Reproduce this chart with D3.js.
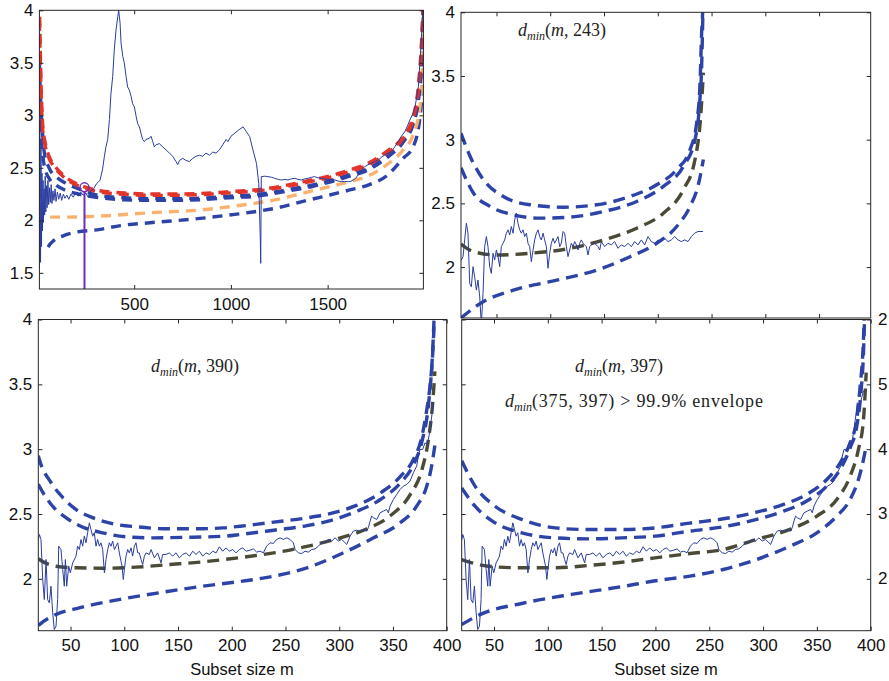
<!DOCTYPE html>
<html><head><meta charset="utf-8">
<script src="https://cdn.jsdelivr.net/npm/d3@7"></script>
<style>body{margin:0;background:#fff}svg{display:block}</style>
</head><body>
<svg id="c" width="889" height="681"></svg>
<script>
// ---------------- DATA ----------------
const tlXTicks = [500, 1000, 1500];
const tlYTicks = [1.5, 2, 2.5, 3, 3.5, 4];
const smXTicks = [50, 100, 150, 200, 250, 300, 350, 400];
const smYTicks = [2, 2.5, 3, 3.5, 4];
const hiddenAxisLabels = ["2", "5", "4", "3", "2"];
const hiddenAxisAt = [4, 3.5, 3, 2.5, 2];

// Top-left: full forward search, n ~ 2000
const tlSeries = [[10,1.55],[12,2.95],[14,2.1],[16,1.6],[18,2.7],[21,1.75],[23,2.45],[26,1.9],[29,2.38],[31,1.98],[34,2.30],[37,2.05],[40,2.42],[43,2.08],[47,2.33],[50,2.12],[54,2.38],[58,2.15],[62,2.31],[66,2.17],[71,2.34],[75,2.16],[80,2.28],[85,2.19],[91,2.30],[96,2.18],[103,2.27],[110,2.20],[118,2.26],[125,2.19],[134,2.25],[142,2.21],[152,2.24],[162,2.20],[173,2.25],[185,2.22],[197,2.26],[210,2.23],[223,2.27],[236,2.24],[250,2.26],[262,2.22],[275,2.28],[290,2.30],[306,2.35],[323,2.38],[336,2.48],[346,2.61],[354,2.70],[363,2.77],[372,2.96],[380,3.21],[389,3.37],[397,3.62],[406,3.81],[415,3.94],[420,4.0],[427,3.88],[432,3.69],[441,3.56],[449,3.50],[458,3.37],[466,3.27],[475,3.24],[484,3.18],[492,3.11],[501,3.08],[510,2.99],[518,2.92],[527,2.89],[535,2.83],[544,2.77],[553,2.75],[561,2.77],[578,2.78],[587,2.80],[596,2.75],[604,2.70],[613,2.72],[630,2.73],[647,2.70],[665,2.67],[682,2.64],[699,2.61],[716,2.56],[725,2.53],[734,2.57],[751,2.59],[768,2.57],[785,2.56],[803,2.59],[820,2.61],[837,2.62],[854,2.61],[871,2.64],[889,2.62],[906,2.65],[923,2.64],[940,2.67],[958,2.72],[975,2.77],[985,2.75],[1000,2.80],[1020,2.83],[1040,2.86],[1063,2.89],[1080,2.844],[1097,2.797],[1114,2.67],[1132,2.543],[1144,2.352],[1152,1.812],[1154,1.59],[1157,2.416],[1175,2.42],[1192,2.416],[1210,2.41],[1226,2.40],[1245,2.39],[1261,2.384],[1280,2.39],[1295,2.384],[1312,2.395],[1330,2.40],[1347,2.39],[1364,2.384],[1381,2.395],[1399,2.40],[1416,2.41],[1433,2.416],[1450,2.405],[1468,2.40],[1485,2.395],[1502,2.39],[1520,2.388],[1537,2.384],[1554,2.375],[1571,2.368],[1588,2.37],[1606,2.368],[1620,2.372],[1632,2.384],[1645,2.40],[1657,2.432],[1675,2.48],[1692,2.511],[1709,2.53],[1726,2.543],[1743,2.56],[1761,2.575],[1778,2.60],[1795,2.622],[1812,2.64],[1830,2.654],[1847,2.70],[1864,2.749],[1881,2.80],[1899,2.844],[1915,2.91],[1925,2.955],[1942,3.019],[1952,3.082],[1969,3.272],[1981,3.622],[1992,4.0]];
const tlRed99999 = [[10,4.1],[13,3.78],[18,3.34],[27,2.91],[40,2.74],[58,2.62],[85,2.53],[122,2.45],[170,2.38],[213,2.34],[323,2.282],[450,2.26],[582,2.25],[700,2.25],[840,2.256],[1020,2.276],[1123,2.289],[1227,2.314],[1321,2.346],[1416,2.384],[1511,2.422],[1614,2.479],[1709,2.543],[1804,2.654],[1890,2.797],[1942,2.987],[1970,3.30],[1986,3.72],[1995,4.1]];
const tlRed9999 = [[10,3.9],[13,3.65],[18,3.25],[27,2.86],[40,2.71],[58,2.60],[85,2.51],[122,2.435],[170,2.367],[213,2.327],[323,2.27],[450,2.248],[582,2.238],[700,2.238],[840,2.244],[1020,2.264],[1123,2.277],[1227,2.302],[1321,2.334],[1416,2.371],[1511,2.409],[1614,2.465],[1709,2.528],[1804,2.638],[1890,2.78],[1942,2.965],[1970,3.26],[1986,3.66],[1995,4.1]];
const tlBlue999 = [[10,3.5],[15,3.2],[22,2.95],[35,2.65],[60,2.50],[100,2.41],[140,2.36],[213,2.30],[323,2.235],[450,2.215],[582,2.205],[700,2.205],[840,2.21],[1020,2.232],[1123,2.243],[1227,2.27],[1321,2.302],[1416,2.334],[1511,2.378],[1614,2.435],[1709,2.493],[1804,2.607],[1890,2.756],[1942,2.93],[1970,3.2],[1986,3.6],[1995,4.1]];
const tlBlue99 = [[10,3.1],[15,2.9],[22,2.72],[35,2.52],[60,2.40],[100,2.33],[140,2.29],[213,2.25],[323,2.215],[450,2.195],[582,2.19],[700,2.19],[840,2.196],[1020,2.218],[1123,2.228],[1227,2.256],[1321,2.288],[1416,2.32],[1511,2.364],[1614,2.421],[1709,2.479],[1804,2.593],[1890,2.742],[1942,2.918],[1970,3.15],[1986,3.5],[1995,4.1]];
const tlOrange50 = [[10,2.30],[15,2.22],[22,2.10],[35,2.04],[60,2.03],[130,2.03],[323,2.04],[582,2.072],[840,2.098],[1020,2.136],[1123,2.162],[1227,2.194],[1321,2.235],[1416,2.279],[1511,2.321],[1614,2.368],[1709,2.422],[1804,2.527],[1890,2.67],[1942,2.813],[1975,3.05],[1990,3.5],[1995,4.1]];
const tlBlue1 = [[55,1.745],[60,1.76],[80,1.80],[130,1.85],[180,1.88],[323,1.914],[430,1.95],[582,1.977],[840,2.018],[1020,2.057],[1123,2.082],[1227,2.114],[1321,2.155],[1416,2.20],[1511,2.241],[1614,2.289],[1709,2.336],[1804,2.422],[1890,2.59],[1942,2.70],[1975,2.95],[1990,3.3],[1995,4.1]];
const tlSignal = [243, 2.314];

// Top-right: d_min(m, 243)
const trSeries = [[17,2.05],[18.9,2.082],[20.4,2.213],[22.0,2.344],[23.5,2.266],[25.1,1.871],[26.6,1.845],[28.2,2.003],[29.7,1.924],[31.3,1.819],[32.8,1.898],[34.4,1.766],[35.9,1.55],[37.5,1.793],[39.0,2.160],[40.6,2.239],[42.1,2.160],[43.7,2.003],[45.2,1.950],[46.8,2.108],[48.3,2.055],[49.9,2.134],[51.4,2.082],[53.0,2.003],[54.5,2.160],[56.1,2.187],[57.6,2.213],[59.2,2.266],[60.7,2.292],[62.3,2.252],[63.8,2.318],[65.4,2.266],[66.9,2.371],[68.5,2.423],[70.0,2.344],[71.6,2.292],[73.1,2.266],[74.7,2.292],[76.2,2.239],[77.8,2.266],[79.3,2.187],[80.9,2.160],[82.4,2.042],[84.0,2.134],[85.5,2.213],[87.1,2.266],[88.6,2.292],[90.2,2.239],[91.7,2.213],[93.3,2.266],[94.8,2.213],[96.4,2.160],[97.9,1.990],[99.5,2.108],[101.0,2.187],[102.6,2.226],[104.1,2.187],[105.7,2.213],[107.2,2.239],[108.8,2.160],[110.3,2.187],[111.9,2.279],[113.4,2.266],[115.0,2.160],[116.5,2.082],[118.1,2.134],[119.6,2.187],[121.2,2.160],[122.7,2.200],[124.3,2.174],[125.8,2.134],[127.4,2.187],[128.9,2.213],[130.5,2.187],[132.0,2.174],[133.6,2.160],[135.1,2.095],[136.7,2.160],[138.2,2.174],[141.3,2.187],[144.4,2.160],[146.0,2.134],[147.5,2.200],[150.6,2.160],[153.7,2.187],[156.8,2.174],[159.9,2.200],[163.0,2.147],[166.1,2.174],[169.2,2.160],[172.3,2.187],[175.4,2.160],[178.5,2.200],[181.6,2.174],[184.7,2.213],[187.8,2.174],[190.9,2.239],[194.0,2.200],[197.1,2.187],[200.2,2.213],[203.3,2.200],[206.4,2.226],[209.5,2.200],[212.6,2.213],[215.7,2.239],[218.8,2.213],[221.9,2.200],[225.0,2.213],[228.1,2.200],[231.2,2.239],[234.3,2.266],[237.4,2.279],[242.0,2.279]];
const trUp999 = [[17,3.05],[25.4,2.87],[37.8,2.686],[56.4,2.554],[81.2,2.489],[112.2,2.47],[143.2,2.489],[174.2,2.554],[199,2.646],[217.6,2.765],[230,2.922],[236.2,3.133],[239.3,3.448],[240.8,3.842],[241.7,4.0],[242,4.1]];
const trUp99 = [[17,2.78],[28.5,2.581],[44,2.476],[65.7,2.41],[90.5,2.384],[118.4,2.392],[149.4,2.436],[180.4,2.515],[205.2,2.633],[223.8,2.791],[234.6,3.001],[238.7,3.264],[240.8,3.58],[242.2,4.1]];
const trMed = [[17,2.18],[28.5,2.121],[50.2,2.095],[81.2,2.108],[118.4,2.147],[149.4,2.213],[180.4,2.305],[205.2,2.423],[223.8,2.607],[234.6,2.844],[239.9,3.185],[242.4,3.527]];
const trLow = [[17,1.60],[34.7,1.713],[65.7,1.819],[106,1.897],[143.2,1.976],[174.2,2.081],[199,2.187],[217.6,2.318],[230,2.476],[237.7,2.646],[242.4,2.844]];

// Bottom panels: d_min(m, 390) and d_min(m, 397)
const bSeries = [[20,2.30],[21.0,2.342],[22.5,2.303],[24.1,1.995],[25.6,1.84],[27.2,2.149],[28.7,1.84],[30.3,1.815],[31.8,1.943],[33.4,1.738],[34.9,1.609],[36.5,1.635],[38.0,1.84],[39.0,2.252],[41.1,2.226],[42.7,2.072],[44.2,1.943],[45.2,2.149],[46.4,1.943],[48.3,2.098],[49.8,2.046],[52.0,2.123],[55.1,2.175],[56.6,2.252],[58.2,2.226],[59.7,2.303],[61.3,2.252],[62.8,2.329],[64.4,2.278],[65.9,2.355],[67.5,2.432],[69.0,2.38],[70.6,2.329],[72.1,2.355],[73.7,2.252],[75.2,2.303],[76.8,2.252],[78.3,2.278],[79.9,2.226],[81.5,2.046],[83.0,2.149],[84.6,2.226],[86.1,2.278],[87.7,2.252],[89.2,2.291],[90.8,2.226],[92.3,2.252],[93.9,2.278],[95.4,2.20],[97.9,2.098],[99.1,1.995],[100.1,2.072],[101.6,2.175],[103.2,2.226],[104.7,2.20],[106.3,2.239],[107.8,2.175],[109.4,2.252],[110.9,2.278],[112.5,2.20],[114.0,2.20],[115.6,2.149],[117.1,2.11],[118.7,2.175],[120.2,2.20],[123.3,2.188],[124.9,2.226],[128.0,2.162],[131.1,2.20],[134.2,2.123],[135.7,2.188],[138.8,2.188],[142.0,2.20],[145.0,2.175],[148.1,2.20],[151.2,2.162],[154.4,2.188],[157.5,2.20],[160.6,2.175],[163.7,2.213],[166.8,2.188],[169.9,2.213],[173.0,2.175],[176.1,2.20],[179.2,2.188],[182.3,2.213],[185.4,2.20],[188.5,2.247],[191.6,2.213],[194.7,2.239],[197.8,2.213],[200.9,2.226],[204.0,2.20],[207.1,2.226],[210.2,2.239],[213.3,2.213],[217.0,2.221],[220.1,2.231],[223.2,2.206],[226.3,2.213],[229.4,2.201],[232.5,2.252],[235.6,2.278],[238.7,2.273],[241.8,2.304],[244.9,2.316],[248.0,2.304],[251.1,2.316],[254.2,2.304],[257.3,2.278],[258.9,2.226],[262.0,2.201],[265.1,2.195],[268.2,2.213],[271.3,2.206],[274.4,2.226],[277.5,2.231],[280.6,2.252],[283.7,2.278],[286.8,2.283],[289.9,2.304],[293.0,2.291],[296.1,2.316],[299.2,2.291],[302.3,2.304],[305.4,2.278],[307.0,2.265],[310.1,2.329],[313.1,2.368],[316.2,2.375],[319.3,2.368],[322.5,2.381],[325.6,2.368],[327.1,2.394],[328.7,2.445],[330.2,2.484],[331.8,2.471],[334.9,2.458],[338.0,2.509],[341.1,2.522],[344.2,2.535],[345.7,2.509],[347.3,2.561],[350.4,2.612],[353.5,2.651],[356.6,2.689],[359.7,2.715],[362.8,2.728],[365.9,2.754],[369.0,2.818],[372.1,2.869],[373.6,2.946],[375.2,2.998],[377.7,2.998],[379.8,3.049],[381.4,3.036],[383.0,3.075],[384.5,3.152],[386.1,3.255],[387.6,3.358]];
const brTail = [[389.5,3.33],[391.7,3.40],[393.3,3.45]];

const blUp999 = [[20,2.95],[21,2.92],[32,2.74],[43,2.625],[55,2.535],[71,2.47],[92,2.42],[114,2.40],[136,2.386],[167,2.386],[192,2.393],[208,2.406],[239,2.437],[270,2.47],[295,2.51],[316,2.566],[338,2.66],[357,2.79],[369,2.92],[377,3.10],[381,3.28],[384.5,3.49],[387,3.74],[388.5,4.0],[389,4.1]];
const blUp99 = [[20,2.73],[21,2.714],[32,2.573],[46,2.47],[61,2.40],[80,2.355],[102,2.324],[126,2.316],[157,2.32],[195,2.33],[208,2.342],[239,2.375],[270,2.41],[295,2.457],[316,2.52],[338,2.61],[357,2.74],[369,2.88],[377,3.06],[383,3.34],[386.7,3.72],[388.7,4.1]];
const blMed = [[20,2.155],[21,2.149],[36.5,2.097],[55,2.085],[80,2.082],[111,2.09],[142,2.11],[173,2.131],[204,2.16],[239,2.20],[270,2.25],[301,2.316],[326,2.386],[347,2.483],[366,2.65],[377,2.843],[383,3.075],[387,3.36],[389,3.6]];
const blLow = [[20,1.64],[21,1.647],[36.5,1.725],[58,1.776],[95,1.84],[136,1.897],[173,1.943],[208,1.98],[239,2.02],[270,2.085],[301,2.19],[332,2.316],[356.5,2.43],[372,2.56],[381.4,2.714],[386,2.87],[389,3.03]];

const brUp999 = [[20,2.91],[32.4,2.715],[51,2.56],[75.7,2.458],[106.7,2.393],[137.7,2.38],[168.7,2.38],[199.7,2.393],[232,2.43],[263,2.463],[294,2.514],[319,2.574],[340.6,2.651],[359.2,2.766],[371.6,2.895],[380.9,3.05],[387.1,3.23],[390.2,3.487],[392.7,3.744],[394,4.0],[394.5,4.1]];
const brUp99 = [[20,2.70],[32.4,2.56],[51,2.432],[75.7,2.355],[106.7,2.316],[137.7,2.308],[168.7,2.316],[199.7,2.329],[232,2.368],[263,2.401],[294,2.458],[319,2.522],[340.6,2.60],[359.2,2.715],[371.6,2.844],[380.9,3.01],[387.1,3.178],[390.9,3.435],[393.3,3.744],[394.3,4.0],[394.7,4.1]];
const brMed = [[20,2.149],[44.7,2.097],[75.7,2.085],[106.7,2.085],[137.7,2.103],[168.7,2.128],[199.7,2.162],[232,2.195],[263,2.226],[294,2.304],[325,2.381],[350,2.484],[368.5,2.612],[380.9,2.792],[388.6,2.998],[393.3,3.229],[395.8,3.59]];
const brLow = [[20,1.647],[38.5,1.73],[75.7,1.81],[122,1.88],[169,1.94],[200,1.985],[232,2.021],[263,2.072],[294,2.149],[325,2.252],[350,2.355],[368.5,2.484],[380.9,2.612],[388.6,2.766],[393.3,2.921],[395.8,3.024]];

// ---------------- DRAWING ----------------
const C = {blue:"#2e43a8", line:"#2b3d9f", olive:"#4b4a36", red:"#e2342a", orange:"#fbb26e", purple:"#6a2fb3", axis:"#262626"};
const svg = d3.select("#c");
const defs = svg.append("defs");
const FONT = "'Liberation Sans', Arial, Helvetica, sans-serif";
const FS = 17;

function panel(p) {
  const g = svg.append("g");
  g.append("rect").attr("x", p.x0).attr("y", p.y0).attr("width", p.x1 - p.x0).attr("height", p.y1 - p.y0).attr("fill", "#fff");
  const x = d3.scaleLinear().domain(p.xd).range([p.x0, p.x1]);
  const y = d3.scaleLinear().domain(p.yd).range([p.y1, p.y0]);
  defs.append("clipPath").attr("id", "clip-" + p.id).append("rect")
    .attr("x", p.x0).attr("y", p.y0).attr("width", p.x1 - p.x0).attr("height", p.y1 - p.y0);
  const plot = g.append("g").attr("clip-path", `url(#clip-${p.id})`);
  const smooth = d3.line().x(d => x(d[0])).y(d => y(d[1])).curve(d3.curveMonotoneX);
  const straight = d3.line().x(d => x(d[0])).y(d => y(d[1]));
  p.env.forEach(e => {
    plot.append("path").datum(e.data).attr("d", smooth).attr("fill", "none")
      .attr("stroke", e.color).attr("stroke-width", e.w || 3.4)
      .attr("stroke-dasharray", p.dash);
  });
  p.series.forEach(s => {
    plot.append("path").datum(s).attr("d", straight).attr("fill", "none")
      .attr("stroke", C.line).attr("stroke-width", 1).attr("stroke-linejoin", "round");
  });
  if (p.extra) p.extra(plot, x, y);

  // axes (inward ticks, MATLAB style)
  const fmt = d => String(d);
  const xb = g.append("g").attr("transform", `translate(0,${p.y1})`)
    .call(d3.axisBottom(x).tickValues(p.xt).tickSizeInner(-4).tickSizeOuter(0).tickPadding(8.5)
      .tickFormat(p.xLabels ? fmt : () => ""));
  const xt = g.append("g").attr("transform", `translate(0,${p.y0})`)
    .call(d3.axisTop(x).tickValues(p.xt).tickSizeInner(-4).tickSizeOuter(0).tickFormat(() => ""));
  const yl = g.append("g").attr("transform", `translate(${p.x0},0)`)
    .call(d3.axisLeft(y).tickValues(p.yt).tickSizeInner(-4).tickSizeOuter(0).tickPadding(6)
      .tickFormat(p.yLabels ? fmt : () => ""));
  const yr = g.append("g").attr("transform", `translate(${p.x1},0)`)
    .call(d3.axisRight(y).tickValues(p.yt).tickSizeInner(-4).tickSizeOuter(0).tickFormat(() => ""));
  [xb, xt, yl, yr].forEach(a => {
    a.select(".domain").remove();
    a.selectAll("line").attr("stroke", C.axis);
    a.selectAll("text").attr("font-family", FONT).attr("font-size", FS).attr("fill", "#111");
  });
  g.append("rect").attr("x", p.x0).attr("y", p.y0).attr("width", p.x1 - p.x0).attr("height", p.y1 - p.y0)
    .attr("fill", "none").attr("stroke", C.axis).attr("stroke-width", 1);
  return {g, x, y};
}

function mathLabel(x, y, parts) {
  const t = svg.append("text").attr("x", x).attr("y", y)
    .attr("font-family", "'Liberation Serif', 'DejaVu Serif', serif").attr("font-size", 18).attr("fill", "#222");
  parts.forEach(pt => {
    const s = t.append("tspan").text(pt.t);
    if (pt.i) s.attr("font-style", "italic");
    if (pt.sub) s.attr("font-size", 12).attr("dy", 4);
    if (pt.up) s.attr("dy", -4);
    if (pt.ls) s.attr("letter-spacing", pt.ls);
  });
}
const dmin = [{t:"d", i:true}, {t:"min", i:true, sub:true}];

// Top-right (drawn first, partly covered)
panel({id:"tr", x0:461, x1:870.7, y0:12.3, y1:318, xd:[17,398], yd:[1.6,4],
  xt:smXTicks.slice(0, 7), yt:smYTicks, xLabels:false, yLabels:true, dash:"12,7",
  env:[{data:trLow,color:C.blue},{data:trMed,color:C.olive},{data:trUp99,color:C.blue},{data:trUp999,color:C.blue}],
  series:[trSeries]});

// Top-left
panel({id:"tl", x0:39.4, x1:423.4, y0:10.3, y1:289, xd:[10,1995], yd:[1.346,4],
  xt:tlXTicks, yt:tlYTicks, xLabels:true, yLabels:true, dash:"10,7",
  env:[{data:tlBlue1,color:C.blue},{data:tlOrange50,color:C.orange},{data:tlBlue99,color:C.blue},{data:tlBlue999,color:C.blue},{data:tlRed9999,color:C.red},{data:tlRed99999,color:C.red}],
  series:[tlSeries],
  extra:(plot, x, y) => {
    plot.append("line").attr("x1", x(tlSignal[0])).attr("x2", x(tlSignal[0]))
      .attr("y1", y(tlSignal[1]) + 4).attr("y2", y(1.346)).attr("stroke", C.purple).attr("stroke-width", 2);
    plot.append("circle").attr("cx", x(tlSignal[0])).attr("cy", y(tlSignal[1])).attr("r", 4.5)
      .attr("fill", "none").attr("stroke", C.purple).attr("stroke-width", 1.5);
  }});

// Bottom-left
panel({id:"bl", x0:38.3, x1:446.7, y0:319.5, y1:630.7, xd:[20,400], yd:[1.6,4],
  xt:smXTicks, yt:smYTicks, xLabels:true, yLabels:true, dash:"12,7",
  env:[{data:blLow,color:C.blue},{data:blMed,color:C.olive},{data:blUp99,color:C.blue},{data:blUp999,color:C.blue}],
  series:[bSeries]});

// Bottom-right
panel({id:"br", x0:461.7, x1:870.7, y0:319.5, y1:630.7, xd:[20,400], yd:[1.6,4],
  xt:smXTicks, yt:smYTicks, xLabels:true, yLabels:false, dash:"12,7",
  env:[{data:brLow,color:C.blue},{data:brMed,color:C.olive},{data:brUp99,color:C.blue},{data:brUp999,color:C.blue}],
  series:[bSeries.concat(brTail)]});

// labels of a neighbouring (cropped) axis at the right edge
const yHidden = d3.scaleLinear().domain([1.6,4]).range([630.7,319.5]);
svg.append("g").selectAll("text").data(hiddenAxisLabels).join("text")
  .attr("x", 878).attr("y", (d, i) => yHidden(hiddenAxisAt[i])).attr("dy", "0.32em")
  .attr("font-family", FONT).attr("font-size", FS).attr("fill", "#111").text(d => d);

// annotations
mathLabel(518, 36, dmin.concat([{t:"(", up:true}, {t:"m", i:true}, {t:", 243)"}]));
mathLabel(151, 372, dmin.concat([{t:"(", up:true}, {t:"m", i:true}, {t:", 390)"}]));
mathLabel(575, 372, dmin.concat([{t:"(", up:true}, {t:"m", i:true}, {t:", 397)"}]));
mathLabel(505, 407, dmin.concat([{t:"(375, 397) > 99.9% envelope", up:true, ls:0.8}]));

svg.append("text").attr("x", 242).attr("y", 675).attr("text-anchor", "middle")
  .attr("font-family", FONT).attr("font-size", 16.5).attr("fill", "#111").text("Subset size m");
svg.append("text").attr("x", 666).attr("y", 675).attr("text-anchor", "middle")
  .attr("font-family", FONT).attr("font-size", 16.5).attr("fill", "#111").text("Subset size m");
</script>
</body></html>
